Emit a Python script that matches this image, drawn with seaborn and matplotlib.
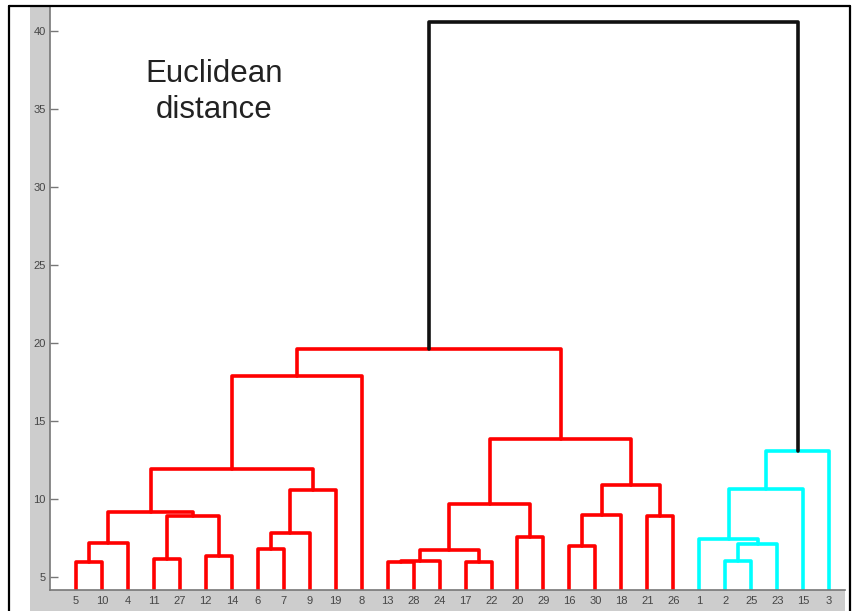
import matplotlib
matplotlib.use("Agg")
import matplotlib.pyplot as plt
import seaborn as sns
import pandas as pd
from matplotlib.lines import Line2D
from matplotlib.patches import Rectangle

# ---- data ----
leaf_order = [5, 10, 4, 11, 27, 12, 14, 6, 7, 9, 19, 8, 13, 28, 24, 17, 22,
              20, 29, 16, 30, 18, 21, 26, 1, 2, 25, 23, 15, 3]
merge_left = ["L5", "M0", "L11", "L12", "M2", "M1", "L6", "M6", "M7", "M5",
              "M9", "L13", "M11", "L17", "M12", "L20", "M14", "L16", "M17",
              "L21", "M18", "M16", "M10", "L2", "M23", "L1", "M25", "M26", "M22"]
merge_right = ["L10", "L4", "L27", "L14", "M3", "M4", "L7", "L9", "L19", "M8",
               "L8", "L28", "L24", "L22", "M13", "L29", "M15", "L30", "L18",
               "L26", "M19", "M20", "M21", "L25", "L23", "M24", "L15", "L3", "M27"]
merge_height = [5.94, 7.16, 6.15, 6.37, 8.91, 9.15, 6.77, 7.80, 10.58, 11.90,
                17.88, 5.97, 6.05, 5.95, 6.73, 7.54, 9.68, 7.01, 8.97, 8.91,
                10.90, 13.83, 19.62, 6.03, 7.09, 7.47, 10.64, 13.08, 40.58]
merge_group = ["red"] * 23 + ["cyan"] * 5 + ["black"]
y_ticks = [5, 10, 15, 20, 25, 30, 35, 40]
title_text = "Euclidean\ndistance"

# ---- build link paths ----
node = {f"L{lab}": (i + 1, 0.0) for i, lab in enumerate(leaf_order)}
rows = []
for k, (a, b, h, g) in enumerate(zip(merge_left, merge_right, merge_height, merge_group)):
    xa, ya = node[a]
    xb, yb = node[b]
    for j, (x, y) in enumerate([(xa, ya), (xa, h), (xb, h), (xb, yb)]):
        rows.append({"link": k, "step": j, "x": x, "y": y, "group": g})
    node[f"M{k}"] = ((xa + xb) / 2, h)
df = pd.DataFrame(rows)

# ---- figure ----
sns.set_theme(style="white")
plt.rcParams["font.family"] = ["Liberation Sans", "DejaVu Sans"]

W, H = 854, 611
fig = plt.figure(figsize=(W / 100, H / 100), dpi=100)
fig.patch.set_facecolor("white")
fig.patches.append(Rectangle((30 / W, 0), (845 - 30) / W, 1 - 6 / H,
                             transform=fig.transFigure, facecolor="#cdcdcd",
                             edgecolor="none", zorder=-5))

ax = fig.add_axes([50 / W, 21 / H, 795 / W, 584 / H])
ax.set_zorder(1)
ax.set_facecolor("white")

palette = {"red": "#ff0000", "cyan": "#00ffff", "black": "#111111"}
sns.lineplot(data=df, x="x", y="y", units="link", hue="group", palette=palette,
             estimator=None, sort=False, linewidth=2.6, legend=False, ax=ax)

ax.set_xlim(0, 30.61)
ax.set_ylim(4.17, 41.61)
ax.set_xticks(range(1, len(leaf_order) + 1))
ax.set_xticklabels([str(v) for v in leaf_order])
ax.set_yticks(y_ticks)
ax.set_yticklabels([str(v) for v in y_ticks])
ax.set_xlabel("")
ax.set_ylabel("")
ax.tick_params(axis="y", left=True, direction="in", length=6, width=1,
               color="#777777", labelcolor="#454545", labelsize=8, pad=3)
ax.tick_params(axis="x", bottom=False, length=0, labelcolor="#454545",
               labelsize=8, pad=4)
for side in ["top", "right"]:
    ax.spines[side].set_visible(False)
for side in ["left", "bottom"]:
    ax.spines[side].set_color("#777777")
    ax.spines[side].set_linewidth(1.2)

fig.text(214 / W, 1 - 92 / H, title_text, ha="center", va="center",
         fontsize=22.5, color="#222222", linespacing=1.27, zorder=5)

# outer frame
frame_kw = dict(transform=fig.transFigure, color="black", linewidth=1.6, zorder=10)
fig.lines.append(Line2D([9 / W, 9 / W], [0, 1 - 6 / H], **frame_kw))
fig.lines.append(Line2D([9 / W, 850 / W], [1 - 6 / H, 1 - 6 / H], **frame_kw))
fig.lines.append(Line2D([850 / W, 850 / W], [0, 1 - 6 / H], **frame_kw))

fig.savefig("out.png", dpi=100)
